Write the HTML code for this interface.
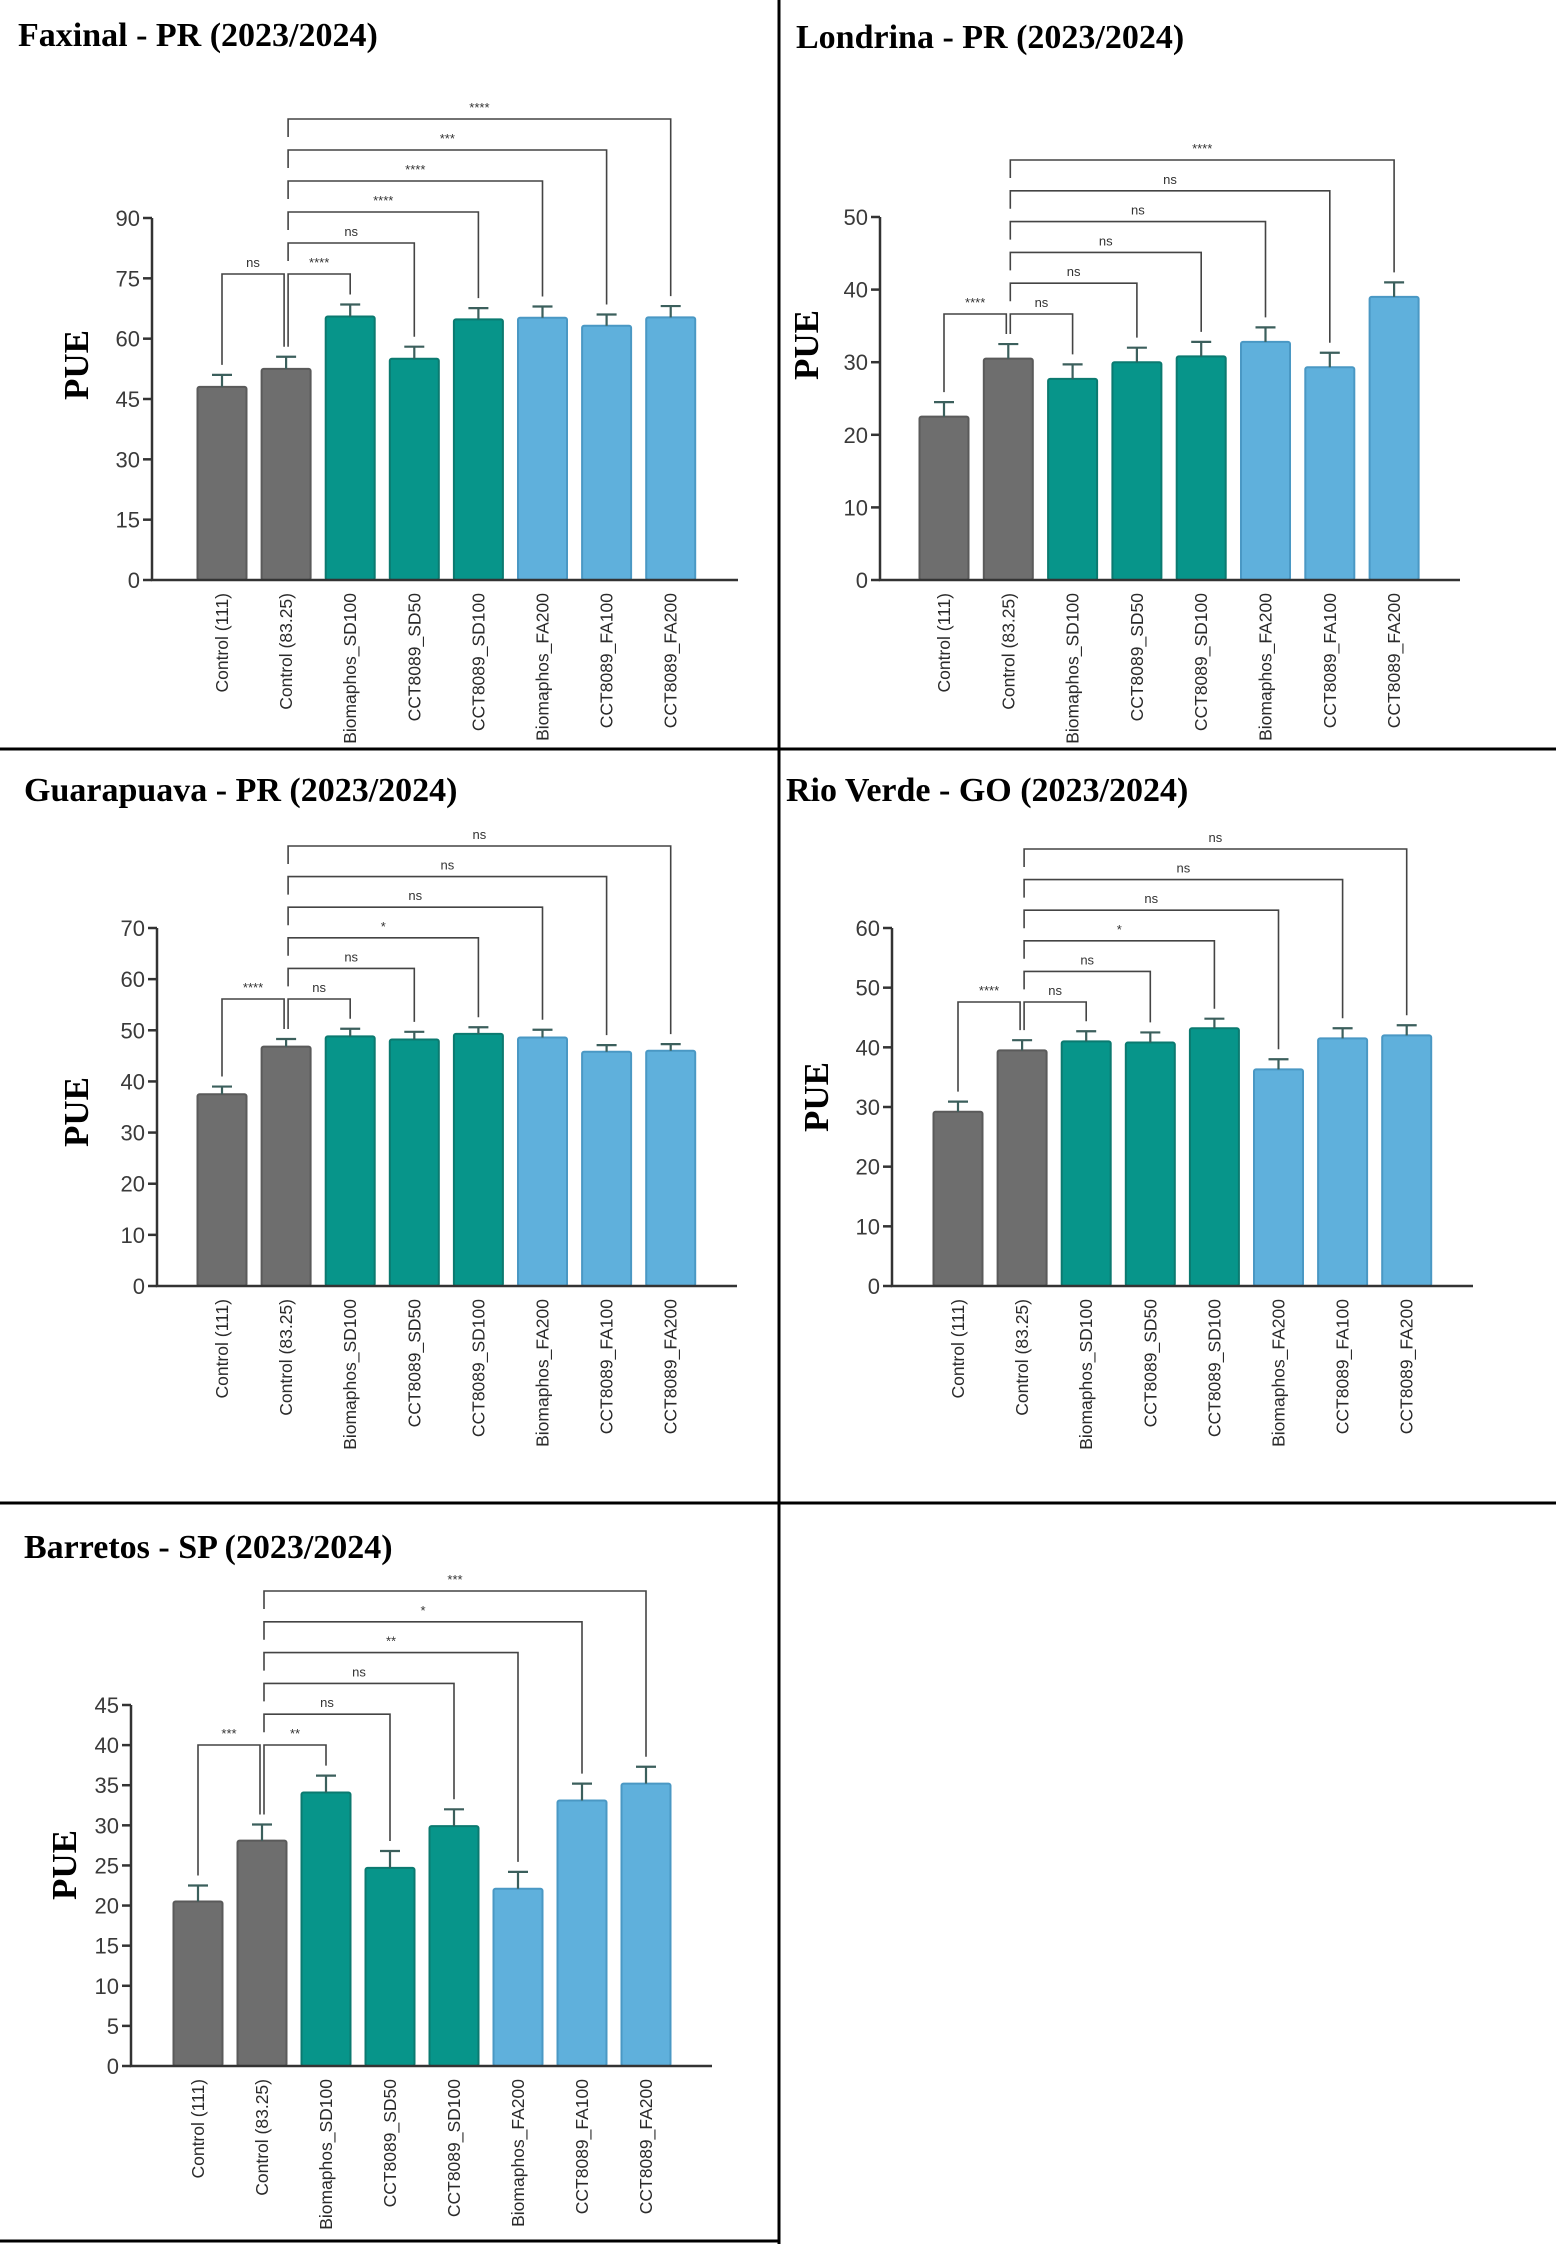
<!DOCTYPE html>
<html><head><meta charset="utf-8"><style>
html,body{margin:0;padding:0;background:#fff;}
svg{display:block;}
.title{font-family:"Liberation Serif",serif;font-weight:bold;font-size:34px;fill:#000;}
.pue{font-family:"Liberation Serif",serif;font-weight:bold;font-size:35px;fill:#000;}
.tick{font-family:"Liberation Sans",sans-serif;font-size:22px;fill:#3a3a3a;}
.cat{font-family:"Liberation Sans",sans-serif;font-size:17.5px;fill:#2a2a2a;}
.sig{font-family:"Liberation Sans",sans-serif;font-size:13px;fill:#333;}
</style></head><body>
<svg id="fig" width="1556" height="2244" viewBox="0 0 1556 2244" xmlns="http://www.w3.org/2000/svg">
<rect x="0" y="0" width="1556" height="2244" fill="#fff"/>
<g stroke="#000" stroke-width="3">
<line x1="779" y1="0" x2="779" y2="2244"/>
<line x1="0" y1="749" x2="1556" y2="749"/>
<line x1="0" y1="1503" x2="1556" y2="1503"/>
<line x1="0" y1="2241" x2="779" y2="2241"/>
</g>
</svg>
<script>
const categories = ["Control (111)","Control (83.25)","Biomaphos_SD100","CCT8089_SD50","CCT8089_SD100","Biomaphos_FA200","CCT8089_FA100","CCT8089_FA200"];
const groups = ["grey","grey","teal","teal","teal","blue","blue","blue"];

const faxinalValues = [48, 52.5, 65.5, 55, 64.8, 65.2, 63.2, 65.3];
const faxinalErrors = [3, 3, 3, 3, 2.8, 2.8, 2.8, 2.8];
const faxinalSig = ["ns","****","ns","****","****","***","****"];
const faxinalTicks = [0,15,30,45,60,75,90];

const londrinaValues = [22.5, 30.5, 27.7, 30, 30.8, 32.8, 29.3, 39];
const londrinaErrors = [2, 2, 2, 2, 2, 2, 2, 2];
const londrinaSig = ["****","ns","ns","ns","ns","ns","****"];
const londrinaTicks = [0,10,20,30,40,50];

const guarapuavaValues = [37.5, 46.8, 48.8, 48.2, 49.3, 48.6, 45.8, 46];
const guarapuavaErrors = [1.5, 1.5, 1.5, 1.5, 1.3, 1.5, 1.3, 1.3];
const guarapuavaSig = ["****","ns","ns","*","ns","ns","ns"];
const guarapuavaTicks = [0,10,20,30,40,50,60,70];

const rioVerdeValues = [29.2, 39.5, 41, 40.8, 43.2, 36.3, 41.5, 42];
const rioVerdeErrors = [1.7, 1.7, 1.7, 1.7, 1.6, 1.7, 1.7, 1.7];
const rioVerdeSig = ["****","ns","ns","*","ns","ns","ns"];
const rioVerdeTicks = [0,10,20,30,40,50,60];

const barretosValues = [20.5, 28.1, 34.1, 24.7, 29.9, 22.1, 33.1, 35.2];
const barretosErrors = [2, 2, 2.1, 2.1, 2.1, 2.1, 2.1, 2.1];
const barretosSig = ["***","**","ns","ns","**","*","***"];
const barretosTicks = [0,5,10,15,20,25,30,35,40,45];

const fills = {grey:"#6e6e6e", teal:"#07958a", blue:"#5fb0dc"};
const strokes = {grey:"#5a5a5a", teal:"#0b7a70", blue:"#4a98c4"};

const panels = [
 {key:"faxinal", title:"Faxinal - PR (2023/2024)", tx:18, ty:46, values:faxinalValues, errors:faxinalErrors, sig:faxinalSig, ticks:faxinalTicks,
  ax:152, ay0:580, ayTop:218, axEnd:738, x0:222, dx:64.1, bw:49, lvl0:274, lstep:31, px:80, py:365},
 {key:"londrina", title:"Londrina - PR (2023/2024)", tx:796, ty:48, values:londrinaValues, errors:londrinaErrors, sig:londrinaSig, ticks:londrinaTicks,
  ax:880, ay0:580, ayTop:217, axEnd:1460, x0:944, dx:64.3, bw:49, lvl0:314, lstep:30.8, px:810, py:345},
 {key:"guarapuava", title:"Guarapuava - PR (2023/2024)", tx:24, ty:801, values:guarapuavaValues, errors:guarapuavaErrors, sig:guarapuavaSig, ticks:guarapuavaTicks,
  ax:157, ay0:1286, ayTop:928, axEnd:737, x0:222, dx:64.1, bw:49, lvl0:999, lstep:30.6, px:80, py:1112},
 {key:"rio-verde", title:"Rio Verde - GO (2023/2024)", tx:786, ty:801, values:rioVerdeValues, errors:rioVerdeErrors, sig:rioVerdeSig, ticks:rioVerdeTicks,
  ax:892, ay0:1286, ayTop:928, axEnd:1473, x0:958, dx:64.1, bw:49, lvl0:1002, lstep:30.6, px:820, py:1097},
 {key:"barretos", title:"Barretos - SP (2023/2024)", tx:24, ty:1558, values:barretosValues, errors:barretosErrors, sig:barretosSig, ticks:barretosTicks,
  ax:131, ay0:2066, ayTop:1705, axEnd:712, x0:198, dx:64, bw:49, lvl0:1745, lstep:30.8, px:68, py:1865}
];

const NS = "http://www.w3.org/2000/svg";
const svg = document.getElementById("fig");
function mk(tag, attrs, parent){ const e=document.createElementNS(NS,tag); for(const k in attrs) e.setAttribute(k,attrs[k]); parent.appendChild(e); return e; }

panels.forEach(p=>{
  const g = mk("g",{},svg);
  
  
  const maxT = p.ticks[p.ticks.length-1];
  const y = v => p.ay0 - (v/maxT)*(p.ay0-p.ayTop);
  const x = i => p.x0 + i*p.dx;

  const t = mk("text",{x:p.tx,y:p.ty,class:"title"},g); t.textContent=p.title;
  
  

  const pl = mk("text",{x:p.px,y:p.py,class:"pue","text-anchor":"middle",transform:`rotate(-90 ${p.px} ${p.py})`,"dominant-baseline":"middle"},g);
  pl.textContent="PUE";
  
  

  p.values.forEach((v,i)=>{
    const grp = groups[i];
    const r = mk("rect",{x:x(i)-p.bw/2,y:y(v),width:p.bw,height:p.ay0-y(v),fill:fills[grp],stroke:strokes[grp],"stroke-width":2,rx:2},g);
    
    
    const et = y(v+p.errors[i]);
    const eb = mk("path",{d:`M${x(i)} ${y(v)} V${et} M${x(i)-10} ${et} H${x(i)+10}`,stroke:"#3b5f5c","stroke-width":2.2,fill:"none"},g);
    
    
    const tx = x(i)+6, ty = p.ay0+13;
    const c = mk("text",{x:tx,y:ty,class:"cat","text-anchor":"end",transform:`rotate(-90 ${tx} ${ty})`},g);
    c.textContent = categories[i];
    
    
  });

  const axes = mk("path",{d:`M${p.ax} ${p.ayTop} V${p.ay0} H${p.axEnd}`,stroke:"#333","stroke-width":2.5,fill:"none"},g);
  
  
  p.ticks.forEach(tv=>{
    mk("line",{x1:p.ax-9,x2:p.ax,y1:y(tv),y2:y(tv),stroke:"#333","stroke-width":2.5},g);
    const tl = mk("text",{x:p.ax-12,y:y(tv)+8,class:"tick","text-anchor":"end"},g);
    tl.textContent = tv;
    
    
  });

  const topOf = i => y(p.values[i]+p.errors[i]) - 10;
  {
    const L=p.lvl0, a=x(0), b=x(1)-2;
    const br = mk("path",{d:`M${a} ${topOf(0)} V${L} H${b} V${topOf(1)}`,stroke:"#444","stroke-width":1.6,fill:"none"},g);
    
    
    const st = mk("text",{x:(a+b)/2,y:L-7,class:"sig","text-anchor":"middle"},g);
    st.textContent = p.sig[0];
    
    
  }
  for(let k=2;k<8;k++){
    const L = p.lvl0 - (k-2)*p.lstep, a=x(1)+2, b=x(k);
    const leftEnd = k===2 ? topOf(1) : L+18;
    const br = mk("path",{d:`M${a} ${leftEnd} V${L} H${b} V${topOf(k)}`,stroke:"#444","stroke-width":1.6,fill:"none"},g);
    
    
    const st = mk("text",{x:(a+b)/2,y:L-7,class:"sig","text-anchor":"middle"},g);
    st.textContent = p.sig[k-1];
    
    
  }
});
</script>
</body></html>
